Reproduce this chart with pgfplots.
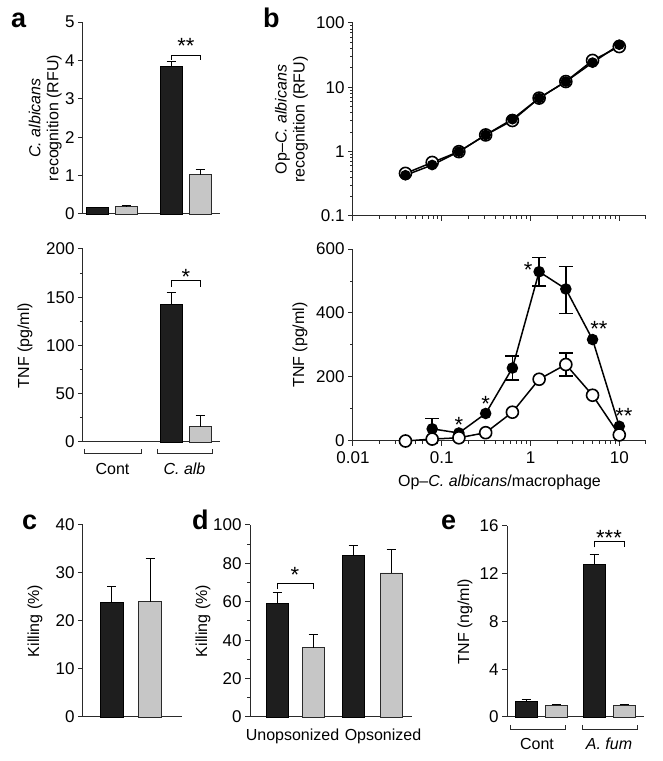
\documentclass[border=0pt]{standalone}
\usepackage{fontspec}
\setmainfont{Liberation Sans}
\usepackage{pgfplots}
\pgfplotsset{compat=1.18}
\definecolor{barblack}{HTML}{1E1E1E}
\definecolor{bargray}{HTML}{C6C6C6}
\definecolor{axgray}{HTML}{2A2A2A}
\pgfplotsset{
  panel/.style={
    scale only axis, anchor=south west,
    axis lines=left, axis line style={-, line width=1pt, axgray},
    tick align=outside, major tick length=5pt, minor tick length=3pt,
    tick style={line width=1pt, axgray},
    tick label style={font=\fontsize{17}{19}\selectfont},
    label style={font=\fontsize{16}{18}\selectfont},
    /pgf/number format/assume math mode=true,
    clip=false,
  },
  barpanel/.style={panel, xtick=\empty, ymin=0},
  blackbar/.style={ybar, bar width=22pt, bar shift=0pt, fill=barblack, draw=black, line width=0.8pt,
    error bars/.cd, y dir=plus, y explicit, error bar style={line width=1pt, black},
    error mark options={rotate=90, mark size=4.5pt, line width=1pt, black}},
  graybar/.style={ybar, bar width=22pt, bar shift=0pt, fill=bargray, draw=axgray, line width=0.8pt,
    error bars/.cd, y dir=plus, y explicit, error bar style={line width=1pt, black},
    error mark options={rotate=90, mark size=4.5pt, line width=1pt, black}},
}
\tikzset{sigstar/.style={font=\fontsize{22}{22}\selectfont, anchor=center, yshift=-4.7pt, inner sep=0pt}}
\begin{document}
\begin{tikzpicture}
\useasboundingbox (0,0) rectangle (662pt,761pt);

% ---------- panel a top ----------
\begin{axis}[barpanel, at={(83pt,547pt)}, width=137pt, height=192pt,
  xmin=0, xmax=137, ymax=5, ytick={0,1,2,3,4,5},
  ylabel={\textit{C. albicans}\\recognition (RFU)},
  ylabel style={at={(axis description cs:-0.275,0.5)}, anchor=center, align=center}]
\addplot[blackbar] coordinates {(14.5,0.16) +- (0,0.02) (88,3.84) +- (0,0.13)};
\addplot[graybar] coordinates {(43,0.19) +- (0,0.02) (117,1.02) +- (0,0.15)};
\draw[line width=1pt] (axis cs:88,4.02) -- (axis cs:88,4.14) -- (axis cs:117,4.14) -- (axis cs:117,4.02);
\node[sigstar] at (axis cs:103,4.5) {**};
\end{axis}

% ---------- panel a bottom ----------
\begin{axis}[barpanel, at={(83pt,319pt)}, width=137pt, height=193pt,
  xmin=0, xmax=137, ymax=200, ytick={0,50,100,150,200}, minor y tick num=1,
  ylabel={TNF (pg/ml)},
  ylabel style={at={(axis description cs:-0.423,0.5)}, anchor=center}]
\addplot[blackbar] coordinates {(88,143) +- (0,12)};
\addplot[graybar] coordinates {(117,16) +- (0,11)};
\draw[line width=1pt] (axis cs:88,161) -- (axis cs:88,167) -- (axis cs:117,167) -- (axis cs:117,161);
\node[sigstar] at (axis cs:103,176) {*};
\end{axis}

% ---------- panel b top ----------
\begin{axis}[panel, at={(353pt,545pt)}, width=293pt, height=193pt,
  xmode=log, ymode=log, xmin=0.01, xmax=20, ymin=0.1, ymax=100,
  xtick={0.01,0.1,1,10}, xticklabels={},
  minor xtick={0.02,0.03,0.04,0.05,0.06,0.07,0.08,0.09,0.2,0.3,0.4,0.5,0.6,0.7,0.8,0.9,2,3,4,5,6,7,8,9,20},
  ytick={0.1,1,10,100}, yticklabels={0.1,1,10,100},
  ylabel={Op--\textit{C. albicans}\\recognition (RFU)},
  ylabel style={at={(axis description cs:-0.21,0.5)}, anchor=center, align=center}]
\addplot[black, line width=1.5pt, mark=*, mark size=6pt, mark options={fill=white, line width=1.6pt, draw=black}]
  coordinates {(0.039,0.46) (0.078,0.68) (0.156,1.0) (0.3125,1.82) (0.625,3.05) (1.25,6.8) (2.5,12.3) (5,26.2) (10,43)};
\addplot[black, line width=1.5pt, mark=*, mark size=4.6pt, mark options={fill=black, draw=black}]
  coordinates {(0.039,0.43) (0.078,0.62) (0.156,1.0) (0.3125,1.82) (0.625,3.2) (1.25,6.8) (2.5,12.3) (5,24.2) (10,46)};
\end{axis}

% ---------- panel b bottom ----------
\begin{axis}[panel, at={(353pt,320pt)}, width=293pt, height=192pt,
  xmode=log, xmin=0.01, xmax=20, ymin=0, ymax=600,
  xtick={0.01,0.1,1,10}, xticklabels={0.01,0.1,1,10},
  xticklabel style={yshift=-2pt},
  minor xtick={0.02,0.03,0.04,0.05,0.06,0.07,0.08,0.09,0.2,0.3,0.4,0.5,0.6,0.7,0.8,0.9,2,3,4,5,6,7,8,9,20},
  ytick={0,200,400,600}, minor y tick num=1,
  ylabel={TNF (pg/ml)},
  ylabel style={at={(axis description cs:-0.181,0.5)}, anchor=center},
  xlabel={Op--\textit{C. albicans}/macrophage},
  xlabel style={at={(axis description cs:0.5,-0.213)}, anchor=center}]
% black error bars
\addplot[only marks, mark=none, error bars/.cd, y dir=plus, y explicit,
  error bar style={line width=1.5pt, black}, error mark options={rotate=90, mark size=7pt, line width=1.5pt, black}]
  coordinates {(0.078,38) +- (0,32)};
\addplot[only marks, mark=none, error bars/.cd, y dir=both, y explicit,
  error bar style={line width=1.5pt, black}, error mark options={rotate=90, mark size=7pt, line width=1.5pt, black}]
  coordinates {(0.625,228) +- (0,38) (1.25,529) +- (0,44) (2.5,472) +- (0,73)};
\addplot[black, line width=1.5pt, mark=*, mark size=5pt, mark options={fill=black, draw=black}]
  coordinates {(0.078,38) (0.156,25) (0.3125,86) (0.625,228) (1.25,529) (2.5,475) (5,317) (10,46)};
% open error bars
\addplot[only marks, mark=none, error bars/.cd, y dir=both, y explicit,
  error bar style={line width=1.5pt, black}, error mark options={rotate=90, mark size=7pt, line width=1.5pt, black}]
  coordinates {(2.5,239) +- (0,36)};
\addplot[black, line width=1.5pt, mark=*, mark size=6pt, mark options={fill=white, line width=1.6pt, draw=black}]
  coordinates {(0.039,0) (0.078,6) (0.156,10) (0.3125,26) (0.625,90) (1.25,193) (2.5,239) (5,143) (10,19)};
\node[sigstar] at (axis cs:0.156,65) {*};
\node[sigstar] at (axis cs:0.3125,132) {*};
\node[sigstar] at (axis cs:0.94,550) {*};
\node[sigstar] at (axis cs:5.9,365) {**};
\node[sigstar] at (axis cs:11.3,92) {**};
\end{axis}

% ---------- panel c ----------
\begin{axis}[barpanel, at={(83pt,44pt)}, width=99pt, height=192pt,
  xmin=0, xmax=99, ymax=40, ytick={0,10,20,30,40},
  ylabel={Killing (\%)},
  ylabel style={at={(axis description cs:-0.485,0.5)}, anchor=center}]
\addplot[blackbar, /pgfplots/bar width=23pt] coordinates {(28.5,23.8) +- (0,3.3)};
\addplot[graybar, /pgfplots/bar width=23pt] coordinates {(67,24) +- (0,9)};
\end{axis}

% ---------- panel d ----------
\begin{axis}[barpanel, at={(250pt,44pt)}, width=162pt, height=192pt,
  xmin=0, xmax=162, ymax=100, ytick={0,20,40,60,80,100}, minor y tick num=1,
  ylabel={Killing (\%)},
  ylabel style={at={(axis description cs:-0.29,0.5)}, anchor=center}]
\addplot[blackbar] coordinates {(27,59) +- (0,6) (103,84) +- (0,5.5)};
\addplot[graybar] coordinates {(63,36) +- (0,7) (141,75) +- (0,12)};
\draw[line width=1pt] (axis cs:27,66.5) -- (axis cs:27,69.5) -- (axis cs:63,69.5) -- (axis cs:63,66.5);
\node[sigstar] at (axis cs:45,76.5) {*};
\end{axis}

% ---------- panel e ----------
\begin{axis}[barpanel, at={(507pt,44pt)}, width=137pt, height=191pt,
  xmin=0, xmax=137, ymax=16, ytick={0,4,8,12,16},
  ylabel={TNF (ng/ml)},
  ylabel style={at={(axis description cs:-0.307,0.5)}, anchor=center}]
\addplot[blackbar] coordinates {(19,1.3) +- (0,0.2) (87,12.8) +- (0,0.85)};
\addplot[graybar] coordinates {(49,0.98) +- (0,0.08) (117,0.98) +- (0,0.08)};
\draw[line width=1pt] (axis cs:87,14.2) -- (axis cs:87,14.66) -- (axis cs:117,14.66) -- (axis cs:117,14.2);
\node[sigstar] at (axis cs:102,15.4) {***};
\end{axis}

% ---------- group brackets and labels ----------
\begin{scope}[line width=1pt, axgray]
\draw (84pt,312pt) -- (84pt,307pt) -- (141pt,307pt) -- (141pt,312pt);
\draw (157pt,312pt) -- (157pt,307pt) -- (212pt,307pt) -- (212pt,312pt);
\draw (510pt,36pt) -- (510pt,31pt) -- (565pt,31pt) -- (565pt,36pt);
\draw (582pt,36pt) -- (582pt,31pt) -- (637pt,31pt) -- (637pt,36pt);
\end{scope}
\begin{scope}[every node/.style={font=\fontsize{16}{18}\selectfont, anchor=base, inner sep=0pt}]
\node at (112.5pt,286pt) {Cont};
\node at (184.5pt,286pt) {\textit{C. alb}};
\node at (537pt,11pt) {Cont};
\node at (609pt,11pt) {\textit{A. fum}};
\node at (292.5pt,20pt) {Unopsonized};
\node at (383pt,20pt) {Opsonized};
\end{scope}
% panel letters
\begin{scope}[every node/.style={font=\fontsize{27}{27}\selectfont\bfseries, anchor=base west, inner sep=0pt}]
\node at (11pt,733pt) {a};
\node at (263pt,733pt) {b};
\node at (22pt,231pt) {c};
\node at (192pt,231pt) {d};
\node at (441pt,231pt) {e};
\end{scope}
\end{tikzpicture}
\end{document}
